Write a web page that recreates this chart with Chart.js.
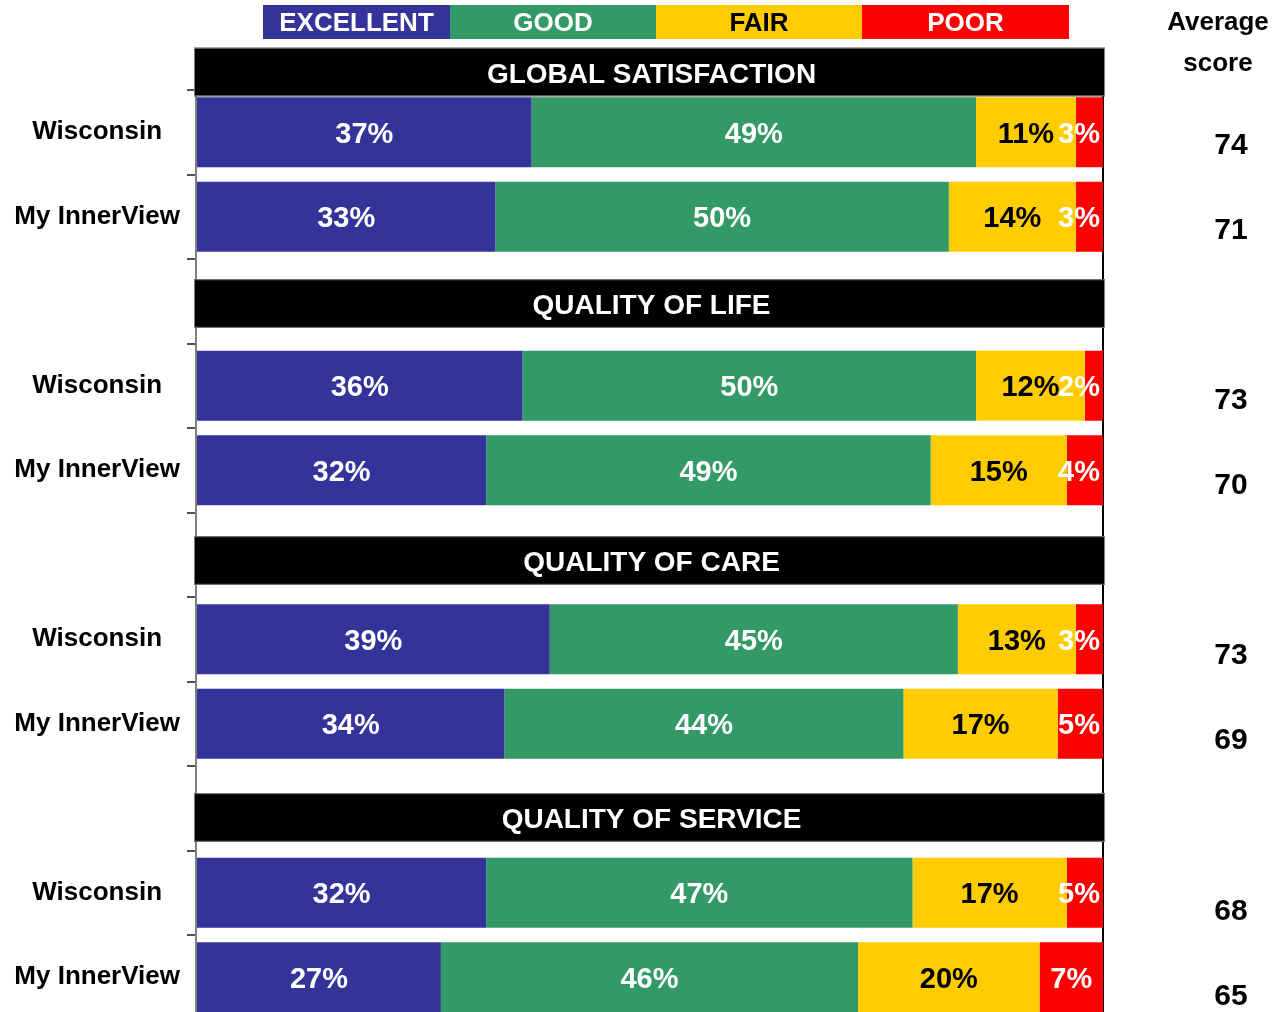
<!DOCTYPE html>
<html>
<head>
<meta charset="utf-8">
<title>Satisfaction - Wisconsin vs My InnerView</title>
<script src="https://cdn.jsdelivr.net/npm/chart.js@4.4.1/dist/chart.umd.min.js"></script>
<style>
  html, body { margin: 0; padding: 0; background: #fff; overflow: hidden; }
  #wrap { width: 1277px; height: 1012px; overflow: hidden; }
</style>
</head>
<body>
<div id="wrap"><canvas id="grafico" width="1277" height="1060"></canvas></div>
<script>
// ============================================================
// DATA
// ============================================================
const rows = ['Wisconsin', 'My InnerView', '', 'Wisconsin', 'My InnerView', '',
              'Wisconsin', 'My InnerView', '', 'Wisconsin', 'My InnerView'];
const sections = ['GLOBAL SATISFACTION', 'QUALITY OF LIFE', 'QUALITY OF CARE', 'QUALITY OF SERVICE'];
const seriesNames = ['EXCELLENT', 'GOOD', 'FAIR', 'POOR'];

const excellent = [37, 33, null, 36, 32, null, 39, 34, null, 32, 27];
const good      = [49, 50, null, 50, 49, null, 45, 44, null, 47, 46];
const fair      = [11, 14, null, 12, 15, null, 13, 17, null, 17, 20];
const poor      = [3, 3, null, 2, 4, null, 3, 5, null, 5, 7];

const avgScores = [74, 71, null, 73, 70, null, 73, 69, null, 68, 65];
const scoreTitle = ['Average', 'score'];

// ============================================================
// STYLE
// ============================================================
const FONT = '"Liberation Sans", Arial, Helvetica, sans-serif';
const fillColors = ['#333399', '#339966', '#FFCC00', '#FF0000'];
const textColors = ['#FFFFFF', '#FFFFFF', '#000000', '#FFFFFF'];

// header bands sit in the blank rows (position in category units)
const headerPos = [-0.713, 2.027, 5.068, 8.109];
const headerSize = 0.575;

// legend boxes across the top
const legendLeft = [263, 450, 656, 862];
const legendRight = [450, 656, 862, 1069];

Chart.defaults.font.family = FONT;

// ============================================================
// PLUGINS
// ============================================================
const rotulosPlugin = {
  id: 'rotulos',
  afterDatasetsDraw(chart) {
    const ctx = chart.ctx;
    const area = chart.chartArea;
    ctx.save();
    ctx.font = 'bold 29px ' + FONT;
    ctx.textAlign = 'center';
    ctx.textBaseline = 'alphabetic';
    chart.data.datasets.forEach((ds, di) => {
      const meta = chart.getDatasetMeta(di);
      meta.data.forEach((bar, i) => {
        const v = ds.data[i];
        if (v == null) return;
        const txt = v + '%';
        const w = ctx.measureText(txt).width;
        const end = Math.min(bar.x, area.right);
        let cx = (bar.base + end) / 2;
        cx = Math.min(cx, area.right - 3 - w / 2);
        ctx.fillStyle = textColors[di];
        ctx.fillText(txt, cx, bar.y + 10.4);
      });
    });
    ctx.restore();
  }
};

const moldurasPlugin = {
  id: 'molduras',
  afterDraw(chart) {
    const ctx = chart.ctx;
    const area = chart.chartArea;
    const yScale = chart.scales.y;
    const step = yScale.getPixelForValue(1) - yScale.getPixelForValue(0);
    ctx.save();

    // section headers
    sections.forEach((title, k) => {
      const cy = yScale.getPixelForValue(headerPos[k]);
      const h = step * headerSize;
      const x0 = area.left - 2, x1 = area.right + 2;
      ctx.fillStyle = '#000000';
      ctx.fillRect(x0, cy - h / 2, x1 - x0, h);
      ctx.strokeStyle = '#7F7F7F';
      ctx.lineWidth = 1;
      ctx.strokeRect(x0 + 0.5, cy - h / 2 + 0.5, x1 - x0 - 1, h - 1);
      ctx.fillStyle = '#FFFFFF';
      ctx.font = 'bold 28px ' + FONT;
      ctx.textAlign = 'center';
      ctx.textBaseline = 'alphabetic';
      ctx.fillText(title, (x0 + x1) / 2 + 2, cy + 10.5);
    });

    // legend
    ctx.font = 'bold 26px ' + FONT;
    seriesNames.forEach((name, k) => {
      ctx.fillStyle = fillColors[k];
      ctx.fillRect(legendLeft[k], 5, legendRight[k] - legendLeft[k], 34);
      ctx.fillStyle = textColors[k];
      ctx.textAlign = 'center';
      ctx.fillText(name, (legendLeft[k] + legendRight[k]) / 2, 30.5);
    });

    // average score column
    ctx.fillStyle = '#000000';
    ctx.textAlign = 'center';
    ctx.font = 'bold 26px ' + FONT;
    ctx.fillText(scoreTitle[0], 1218, 29.5);
    ctx.fillText(scoreTitle[1], 1218, 70.5);
    ctx.font = 'bold 30px ' + FONT;
    avgScores.forEach((s, i) => {
      if (s == null) return;
      const y = yScale.getPixelForValue(i) + 21.5 + 0.6 * i;
      ctx.fillText(String(s), 1231, y);
    });

    ctx.restore();
  }
};

// ============================================================
// CHART
// ============================================================
const series = [excellent, good, fair, poor];

new Chart(document.getElementById('grafico'), {
  type: 'bar',
  data: {
    labels: rows,
    datasets: series.map((vals, k) => ({
      label: seriesNames[k],
      data: vals,
      backgroundColor: fillColors[k],
      borderWidth: 0,
      barPercentage: 0.83,
      categoryPercentage: 1,
      clip: 0
    }))
  },
  options: {
    indexAxis: 'y',
    responsive: false,
    animation: false,
    layout: { padding: { top: 90, right: 174, bottom: 40.5, left: 0 } },
    plugins: {
      legend: { display: false },
      tooltip: { enabled: false }
    },
    scales: {
      x: {
        stacked: true,
        min: 0,
        max: 100,
        ticks: { display: false, stepSize: 100 },
        grid: {
          drawTicks: false,
          lineWidth: 2,
          color: c => (c.tick && c.tick.value === 100) ? '#000000' : 'rgba(0,0,0,0)'
        },
        border: { display: false }
      },
      y: {
        stacked: true,
        ticks: {
          color: '#000000',
          font: { size: 26, weight: 'bold' },
          crossAlign: 'center',
          padding: 7
        },
        grid: { drawOnChartArea: false, tickLength: 9, color: '#505050', lineWidth: 2 },
        border: { display: true, color: '#808080', width: 2 },
        afterFit(scale) { scale.width = 196; }
      }
    }
  },
  plugins: [rotulosPlugin, moldurasPlugin]
});
</script>
</body>
</html>
